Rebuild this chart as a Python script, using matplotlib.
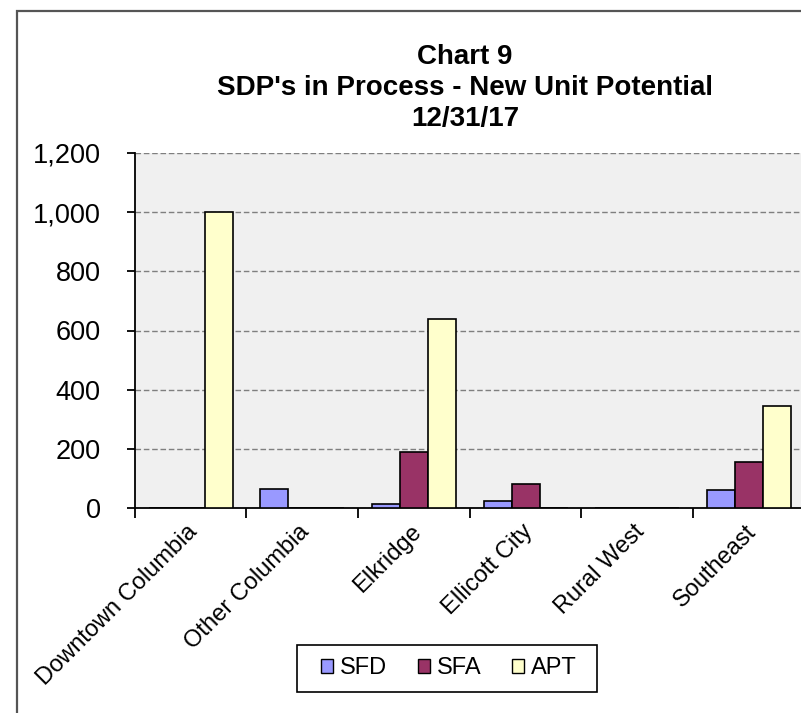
import matplotlib
matplotlib.use("Agg")
import matplotlib.pyplot as plt
import numpy as np
from matplotlib.patches import Rectangle
from matplotlib.ticker import FuncFormatter

plt.rcParams["font.family"] = ["Liberation Sans", "DejaVu Sans"]

# data
regions = ["Downtown Columbia", "Other Columbia", "Elkridge",
           "Ellicott City", "Rural West", "Southeast"]
sfd = [0, 65, 15, 25, 0, 60]
sfa = [0, 0, 190, 80, 0, 155]
apt = [1000, 0, 640, 0, 0, 345]

series = [("SFD", sfd, "#9999FF"), ("SFA", sfa, "#993366"), ("APT", apt, "#FFFFCC")]

W, H = 801, 713
fig = plt.figure(figsize=(W / 100, H / 100), dpi=100)

# outer chart border (runs off the right and bottom of the image)
fig.patches.append(Rectangle((17 / W, -0.1), 2.0, (H - 11) / H + 0.1,
                             transform=fig.transFigure, fill=False,
                             edgecolor="#555555", linewidth=1.6))

ax = fig.add_axes([134.8 / W, 205 / H, 670 / W, 355 / H])
ax.set_facecolor("#F0F0F0")

x = np.arange(len(regions))
bw = 0.25
for i, (name, vals, col) in enumerate(series):
    ax.bar(x + (i - 1) * bw, vals, bw, color=col, edgecolor="black",
           linewidth=1.2, label=name, zorder=3)

ax.set_xlim(-0.5, len(regions) - 0.5)
ax.set_ylim(0, 1200)
ax.set_yticks(range(0, 1201, 200))
ax.yaxis.set_major_formatter(FuncFormatter(lambda v, p: f"{int(v):,}"))
ax.yaxis.grid(True, linestyle=(0, (4, 2)), color="#7F7F7F", linewidth=1.0, zorder=1)
ax.set_axisbelow(True)

for s in ["top", "right"]:
    ax.spines[s].set_visible(False)
ax.spines["left"].set_linewidth(1.3)
ax.spines["bottom"].set_linewidth(1.3)

ax.tick_params(axis="y", labelsize=19.5, length=6, width=1.3, pad=18.5, direction="out")
ax.set_xticks(np.arange(len(regions) + 1) - 0.5)
ax.set_xticklabels([])
ax.tick_params(axis="x", length=7, width=1.3, direction="out")

for xi, lab in zip(x, regions):
    ax.annotate(lab, xy=(xi, 0), xycoords=("data", "axes fraction"),
                xytext=(-3, -9), textcoords="offset points",
                rotation=45, ha="right", va="top", rotation_mode="anchor",
                fontsize=17)

fig.text(465 / W, (H - 44) / H,
         "Chart 9\nSDP's in Process - New Unit Potential\n12/31/17",
         ha="center", va="top", fontsize=20, fontweight="bold",
         linespacing=1.24)

# legend box drawn separately so its padding matches the original
fig.patches.append(Rectangle((297 / W, (H - 692) / H), 300 / W, 47 / H,
                             transform=fig.transFigure, facecolor="white",
                             edgecolor="black", linewidth=1.2, zorder=2))
leg = fig.legend(loc="center", bbox_to_anchor=(449 / W, (H - 668.5) / H),
                 ncol=3, fontsize=17, frameon=False,
                 handlelength=0.5, handleheight=0.5,
                 handletextpad=0.3, columnspacing=1.3, borderpad=0.5,
                 borderaxespad=0)
leg.set_zorder(3)
for h in leg.legend_handles:
    h.set_linewidth(1.0)

fig.savefig("out.png", dpi=100)
